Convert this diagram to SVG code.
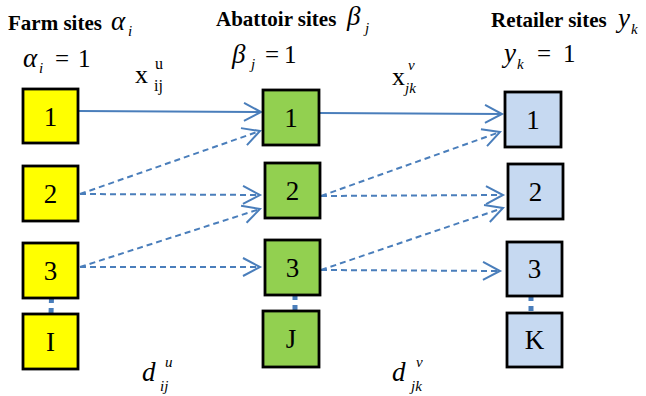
<svg xmlns="http://www.w3.org/2000/svg" width="646" height="396" viewBox="0 0 646 396">
<defs>
<style>
.t{font-family:"Liberation Serif","Times New Roman",serif;fill:#000}
.h{font-weight:bold;font-size:21px}
.m{font-style:italic;font-size:27px}
.s{font-style:italic;font-size:15px}
.n{font-size:27px;text-anchor:middle}
.eq{font-size:25px}
.box{stroke:#000;stroke-width:2.8}
.farm{fill:#FFFF00}
.ab{fill:#92D050}
.ret{fill:#C6D9F1}
.c{fill:none;stroke:#4A7EBB;stroke-width:2;marker-end:url(#ah)}
.d{stroke-dasharray:6 4}
.v{fill:none;stroke:#4A7EBB;stroke-width:5;stroke-dasharray:5 5}
</style>
<marker id="ah" markerUnits="userSpaceOnUse" markerWidth="24" markerHeight="24" viewBox="-20 -12 24 24" refX="0" refY="0" orient="auto">
<path d="M-17,-9 L0,0 L-17,9" fill="none" stroke="#4A7EBB" stroke-width="2" stroke-dasharray="none"/>
</marker>
</defs>
<rect width="646" height="396" fill="#fff"/>

<g id="labels" font-family="Liberation Serif, Times New Roman, serif">
<text class="t h" x="8" y="30">Farm sites</text>
<text class="t m" x="111" y="30">α</text>
<text class="t s" x="128" y="36">i</text>
<text class="t m" x="23" y="67">α</text>
<text class="t s" x="39" y="73">i</text>
<text class="t eq" x="55" y="67">=</text>
<text class="t eq" x="78" y="67">1</text>
<text class="t" x="135" y="83" font-size="26">x</text>
<text class="t" x="155" y="69" font-size="16">u</text>
<text class="t" x="154" y="91" font-size="16">ij</text>

<text class="t h" x="216" y="26">Abattoir sites</text>
<text class="t m" x="347" y="25">β</text>
<text class="t s" x="365" y="33">j</text>
<text class="t m" x="232" y="63">β</text>
<text class="t s" x="251" y="69">j</text>
<text class="t eq" x="265" y="63">=</text>
<text class="t eq" x="284" y="63">1</text>
<text class="t" x="392" y="85" font-size="26">x</text>
<text class="t s" x="408" y="70">v</text>
<text class="t s" x="405" y="93">jk</text>

<text class="t h" x="491" y="27">Retailer sites</text>
<text class="t m" x="618" y="27">y</text>
<text class="t s" x="631" y="34">k</text>
<text class="t m" x="504" y="62">y</text>
<text class="t s" x="517" y="69">k</text>
<text class="t eq" x="537" y="62">=</text>
<text class="t eq" x="563" y="62">1</text>

<text class="t m" x="142" y="381" font-size="30">d</text>
<text class="t s" x="165" y="367">u</text>
<text class="t s" x="160" y="391">ij</text>
<text class="t m" x="392" y="381" font-size="30">d</text>
<text class="t s" x="416" y="367">v</text>
<text class="t s" x="411" y="391">jk</text>
</g>

<g id="connectors">
<line class="c" x1="79" y1="111" x2="261" y2="112"/>
<line class="c d" x1="80" y1="194" x2="260" y2="131"/>
<line class="c d" x1="80" y1="194" x2="260" y2="195"/>
<line class="c d" x1="80" y1="267" x2="260" y2="209"/>
<line class="c d" x1="80" y1="267" x2="260" y2="267"/>
<line class="c" x1="320" y1="113" x2="502" y2="114"/>
<line class="c d" x1="321" y1="196" x2="500" y2="132"/>
<line class="c d" x1="321" y1="196" x2="503" y2="195"/>
<line class="c d" x1="321" y1="270" x2="503" y2="208"/>
<line class="c d" x1="321" y1="270" x2="500" y2="271"/>
<line class="v" x1="51.5" y1="298" x2="51" y2="314"/>
<line class="v" x1="295" y1="295" x2="295" y2="311"/>
<line class="v" x1="531" y1="296" x2="531" y2="313"/>
</g>

<g id="farm1"><rect class="box farm" x="23" y="89" width="55" height="54"/><text class="t n" x="50.5" y="126">1</text></g>
<g id="farm2"><rect class="box farm" x="23" y="166" width="55" height="55"/><text class="t n" x="50.5" y="203">2</text></g>
<g id="farm3"><rect class="box farm" x="23" y="243" width="55" height="55"/><text class="t n" x="50.5" y="280">3</text></g>
<g id="farmI"><rect class="box farm" x="23" y="314" width="55" height="55"/><text class="t n" x="50.5" y="351">I</text></g>

<g id="ab1"><rect class="box ab" x="263" y="90" width="56" height="55"/><text class="t n" x="291" y="127">1</text></g>
<g id="ab2"><rect class="box ab" x="265" y="163" width="55" height="55"/><text class="t n" x="292.5" y="200">2</text></g>
<g id="ab3"><rect class="box ab" x="265" y="240" width="55" height="55"/><text class="t n" x="292.5" y="277">3</text></g>
<g id="abJ"><rect class="box ab" x="263" y="311" width="56" height="56"/><text class="t n" x="291" y="348">J</text></g>

<g id="ret1"><rect class="box ret" x="505" y="92" width="56" height="55"/><text class="t n" x="533" y="129">1</text></g>
<g id="ret2"><rect class="box ret" x="508" y="164" width="55" height="55"/><text class="t n" x="535.5" y="201">2</text></g>
<g id="ret3"><rect class="box ret" x="507" y="242" width="55" height="54"/><text class="t n" x="534.5" y="278">3</text></g>
<g id="retK"><rect class="box ret" x="507" y="313" width="55" height="54"/><text class="t n" x="534.5" y="349">K</text></g>
</svg>
